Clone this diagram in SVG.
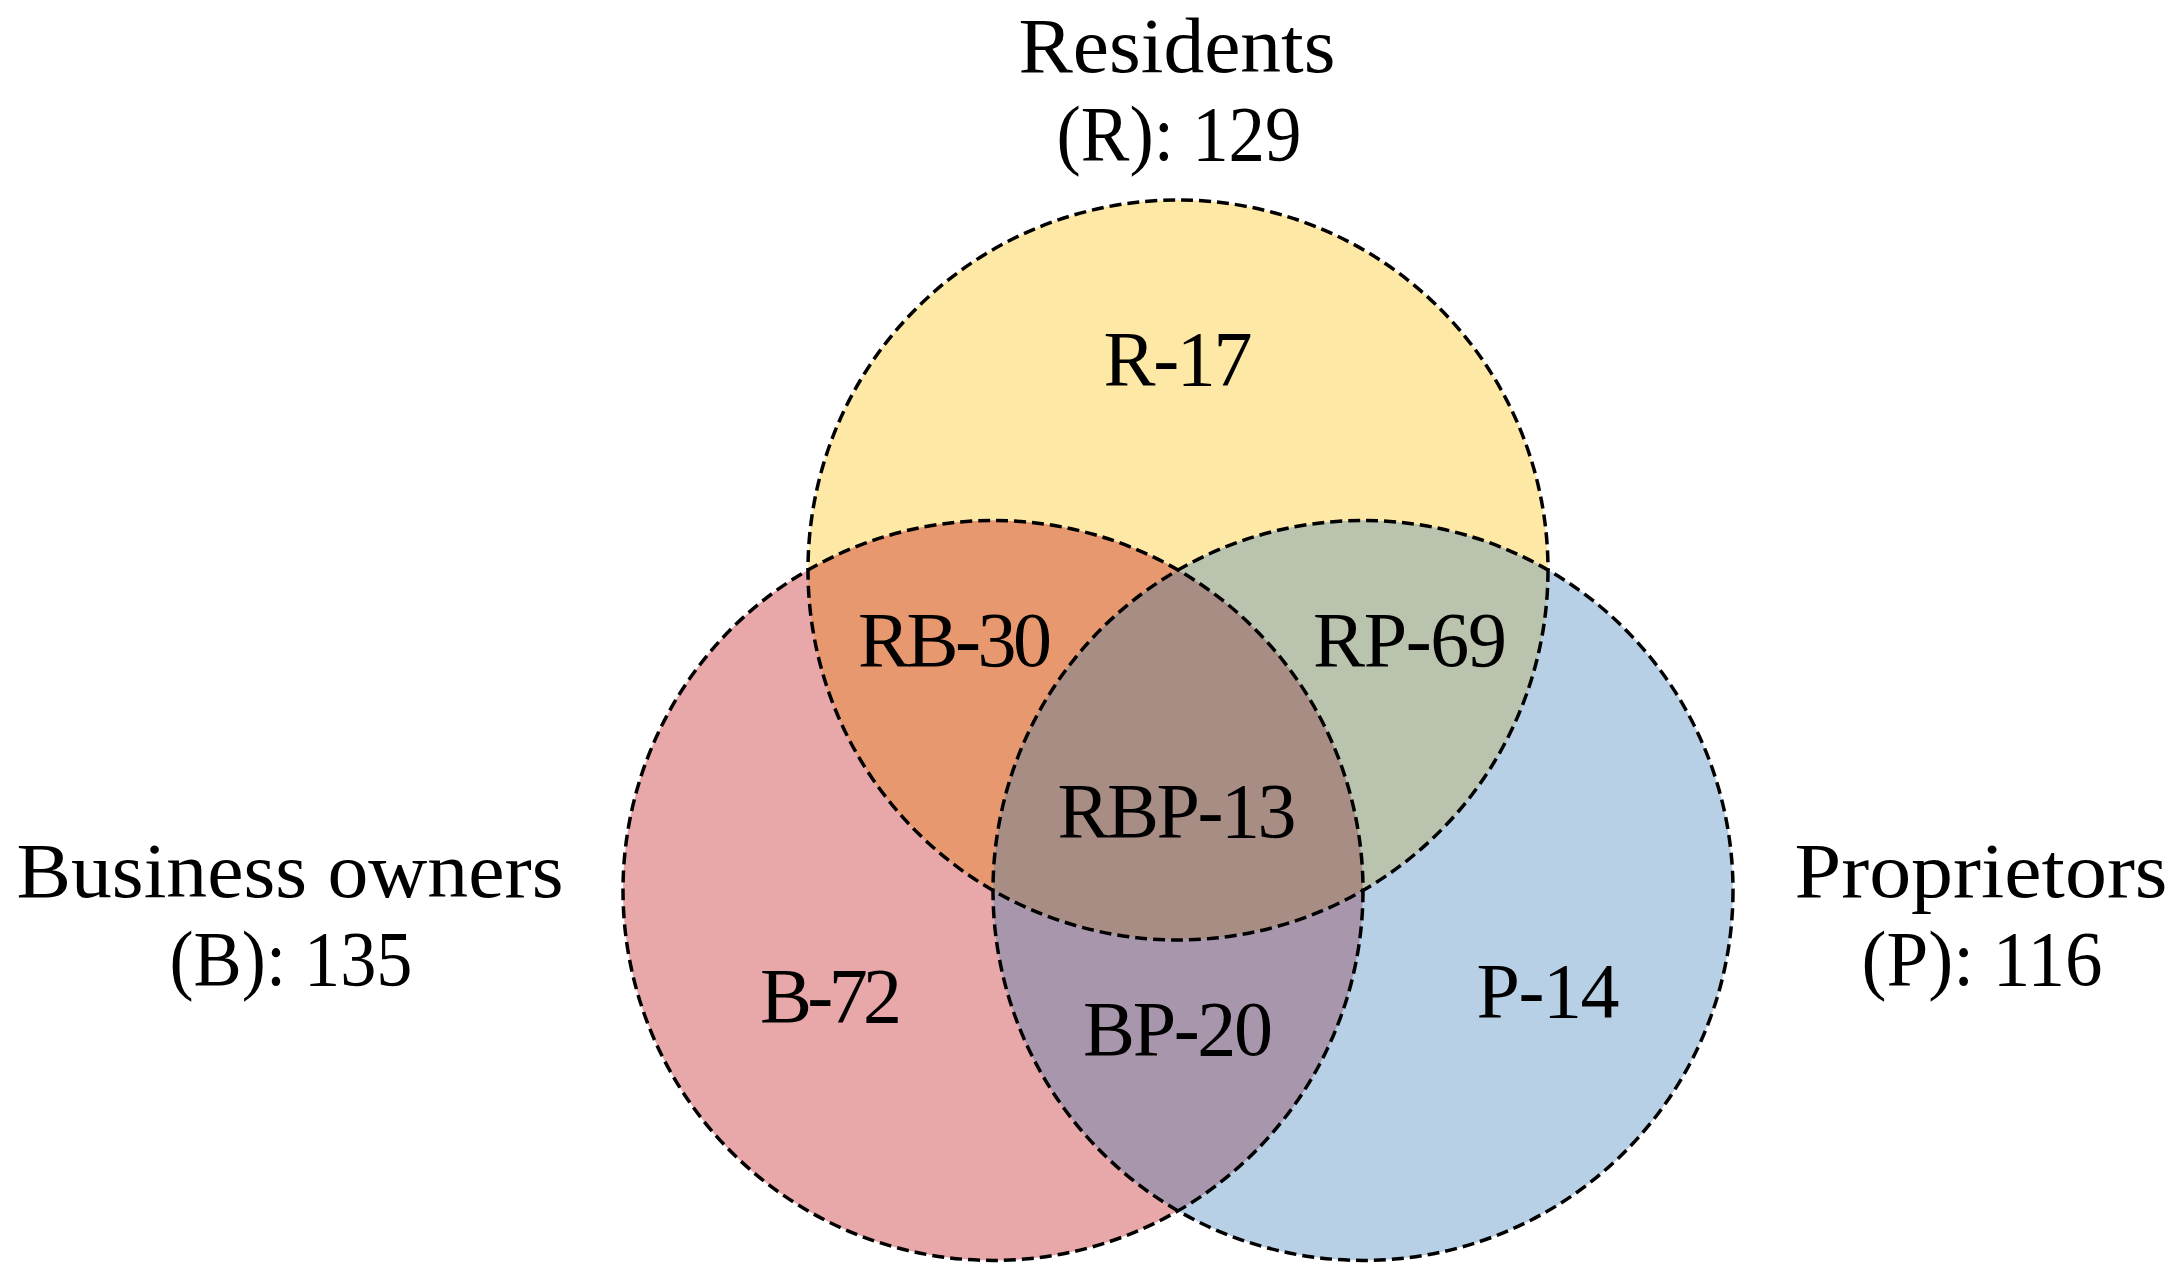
<svg xmlns="http://www.w3.org/2000/svg" width="2174" height="1288" viewBox="0 0 2174 1288">
  <style>
    .lbl { font-family: "Liberation Serif", "Times New Roman", serif; font-size: 78px; fill: #000; text-anchor: middle; }
    .outline { fill: none; stroke: #000; stroke-width: 3.5; stroke-dasharray: 12 6; }
  </style>
  <rect x="0" y="0" width="2174" height="1288" fill="#ffffff"/>

  <g id="node-residents">
    <circle cx="1178" cy="570" r="370" fill="#FEE8A6"/>
  </g>
  <g id="node-business">
    <circle cx="993" cy="890.43" r="370" fill="#E8A7A8"/>
  </g>
  <g id="node-proprietors">
    <circle cx="1363" cy="890.43" r="370" fill="#B8D0E5"/>
  </g>

  <g id="overlap-rb">
    <path d="M 808 570 A 370 370 0 0 1 1178 570 A 370 370 0 0 0 993 890.43 A 370 370 0 0 1 808 570 Z" fill="#E8986E"/>
  </g>
  <g id="overlap-rp">
    <path d="M 1178 570 A 370 370 0 0 1 1548 570 A 370 370 0 0 1 1363 890.43 A 370 370 0 0 0 1178 570 Z" fill="#B9C3AD"/>
  </g>
  <g id="overlap-bp">
    <path d="M 993 890.43 A 370 370 0 0 0 1363 890.43 A 370 370 0 0 1 1178 1210.86 A 370 370 0 0 1 993 890.43 Z" fill="#A896AD"/>
  </g>
  <g id="overlap-rbp">
    <path d="M 1178 570 A 370 370 0 0 0 993 890.43 A 370 370 0 0 0 1363 890.43 A 370 370 0 0 0 1178 570 Z" fill="#A88D84"/>
  </g>

  <g id="connectors">
    <circle class="outline" cx="1178" cy="570" r="370"/>
    <circle class="outline" cx="993" cy="890.43" r="370"/>
    <circle class="outline" cx="1363" cy="890.43" r="370"/>
  </g>

  <g id="labels-regions">
    <text class="lbl" x="1178" y="385" textLength="149">R-17</text>
    <text class="lbl" x="955" y="666" textLength="194">RB-30</text>
    <text class="lbl" x="1410" y="666" textLength="194">RP-69</text>
    <text class="lbl" x="1177" y="837" textLength="239">RBP-13</text>
    <text class="lbl" x="831" y="1022" textLength="142">B-72</text>
    <text class="lbl" x="1178" y="1055" textLength="190">BP-20</text>
    <text class="lbl" x="1548" y="1017" textLength="143">P-14</text>
  </g>

  <g id="label-residents">
    <text class="lbl" x="1177" y="72" textLength="317" lengthAdjust="spacingAndGlyphs">Residents</text>
    <text class="lbl" x="1179" y="160" textLength="245" lengthAdjust="spacingAndGlyphs">(R): 129</text>
  </g>
  <g id="label-business">
    <text class="lbl" x="290" y="897" textLength="547" lengthAdjust="spacingAndGlyphs">Business owners</text>
    <text class="lbl" x="291" y="985" textLength="243" lengthAdjust="spacingAndGlyphs">(B): 135</text>
  </g>
  <g id="label-proprietors">
    <text class="lbl" x="1981" y="897" textLength="373" lengthAdjust="spacingAndGlyphs">Proprietors</text>
    <text class="lbl" x="1982" y="985" textLength="241" lengthAdjust="spacingAndGlyphs">(P): 116</text>
  </g>
</svg>
